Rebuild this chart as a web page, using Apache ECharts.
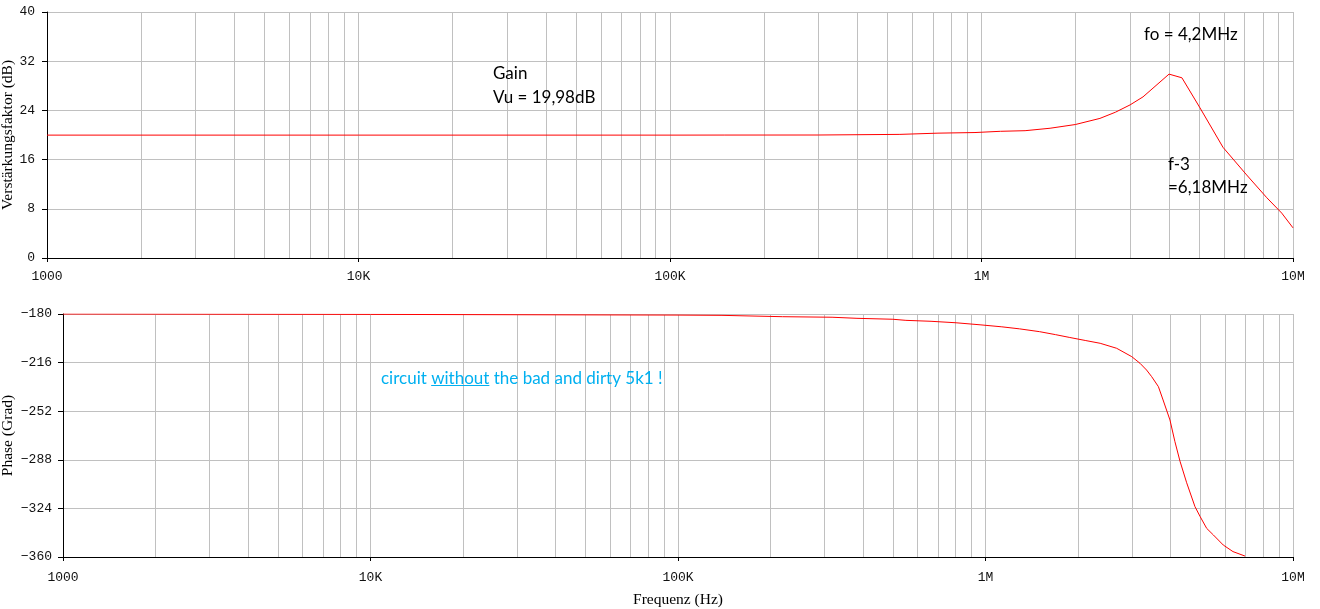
<!DOCTYPE html>
<html>
<head>
<meta charset="utf-8">
<script src="https://cdn.jsdelivr.net/npm/echarts@6/dist/echarts.min.js"></script>
<style>
html,body{margin:0;padding:0;background:#fff;}
#chart{width:1320px;height:609px;}
</style>
</head>
<body>
<div id="chart"></div>
<script>
// ---- data ----
const gainFreq = [1000, 10000, 100000, 150000, 300000, 547000, 725000, 953000, 1150000, 1380000, 1660000, 2000000, 2400000, 2690000, 3000000, 3300000, 4000000, 4400000, 5030000, 5960000, 7100000, 8240000, 9200000, 10000000];
const gainDb   = [19.98, 19.98, 19.98, 19.99, 20.0, 20.1, 20.3, 20.4, 20.6, 20.7, 21.1, 21.7, 22.7, 23.7, 24.9, 26.2, 29.9, 29.3, 24.4, 18.0, 13.5, 9.8, 7.3, 4.9];

const phaseFreq = [1000, 10000, 100000, 139000, 219000, 317000, 382000, 500000, 551000, 665000, 802000, 960000, 1130000, 1290000, 1500000, 1690000, 1880000, 2110000, 2360000, 2670000, 2990000, 3180000, 3340000, 3470000, 3650000, 3780000, 3980000, 4130000, 4290000, 4510000, 4800000, 4990000, 5240000, 5510000, 5930000, 6380000, 6980000];
const phaseDeg  = [-180, -180.3, -180.8, -181.0, -182.0, -182.4, -183.2, -183.9, -184.7, -185.4, -186.5, -188.0, -189.5, -191.0, -193.1, -195.3, -197.4, -199.6, -201.7, -205.4, -211.6, -216.5, -221.5, -226.4, -233.8, -243.7, -258.5, -274.5, -289.0, -305.0, -322.7, -330.1, -338.8, -343.7, -351.1, -356.0, -359.3];

const minorFreqs = [2e3,3e3,4e3,5e3,6e3,7e3,8e3,9e3, 2e4,3e4,4e4,5e4,6e4,7e4,8e4,9e4, 2e5,3e5,4e5,5e5,6e5,7e5,8e5,9e5, 2e6,3e6,4e6,5e6,6e6,7e6,8e6,9e6];
const gainTicks = [0, 8, 16, 24, 32, 40];
const phaseTicks = [-360, -324, -288, -252, -216, -180];

const texts = {
  gain1: 'Gain',
  gain2: 'Vu = 19,98dB',
  fo: 'fo = 4,2MHz',
  f3a: 'f-3',
  f3b: '=6,18MHz',
  note1: 'circuit ',
  note2: 'without',
  note3: ' the bad and dirty 5k1 !'
};

// ---- styles ----
const GRID = '#c0c0c0';
const monoLabel = {fontFamily: 'Liberation Mono', fontSize: 13, color: '#111'};
const serifName = {fontFamily: 'Liberation Serif', fontSize: 15.5, color: '#000'};

function fmtFreq(v){
  const r = Math.round(v);
  if (r >= 1e6) return Math.round(r/1e6) + 'M';
  if (r >= 1e4) return Math.round(r/1e3) + 'K';
  return String(r);
}
function fmtNum(v){ return String(Math.round(v)).replace('-', '\u2212'); }

function xAxisDef(gridIndex, margin, withName){
  return {
    type: 'log', logBase: 10, gridIndex, min: 1000, max: 1e7,
    axisLine: {show: true, lineStyle: {color: '#000', width: 1}},
    axisTick: {show: true, length: 4, lineStyle: {color: '#000'}},
    axisLabel: Object.assign({margin, formatter: fmtFreq, showMinLabel: true, showMaxLabel: true}, monoLabel),
    splitLine: {show: true, lineStyle: {color: GRID, width: 1}},
    minorTick: {show: false}, minorSplitLine: {show: false},
    name: withName ? 'Frequenz (Hz)' : '',
    nameLocation: 'middle', nameGap: 35, nameMoveOverlap: false, nameTextStyle: serifName
  };
}
function yAxisDef(gridIndex, ticks, name, nameGap, margin){
  const step = ticks[1] - ticks[0];
  return {
    type: 'value', gridIndex, min: ticks[0], max: ticks[ticks.length-1], interval: step,
    axisLine: {show: true, lineStyle: {color: '#000', width: 1}},
    axisTick: {show: true, length: 5, lineStyle: {color: '#000'}},
    axisLabel: Object.assign({margin, formatter: fmtNum}, monoLabel),
    splitLine: {show: true, lineStyle: {color: GRID, width: 1}},
    name, nameLocation: 'middle', nameGap, nameRotate: 90, nameMoveOverlap: false, nameTextStyle: serifName
  };
}
function minorGrid(xi, yi){
  return {
    type: 'line', xAxisIndex: xi, yAxisIndex: yi, data: [], z: 1, silent: true,
    markLine: {
      silent: true, symbol: ['none','none'], animation: false,
      label: {show: false},
      lineStyle: {color: GRID, width: 1, type: 'solid'},
      emphasis: {disabled: true},
      data: minorFreqs.map(f => ({xAxis: f}))
    }
  };
}

const chart = echarts.init(document.getElementById('chart'), null, {renderer: 'canvas'});
chart.setOption({
  animation: false,
  backgroundColor: '#fff',
  grid: [
    {left: 47, right: 27, top: 12, height: 246, containLabel: false, outerBoundsMode: 'none'},
    {left: 63, right: 27, top: 314, height: 243, containLabel: false, outerBoundsMode: 'none'}
  ],
  xAxis: [xAxisDef(0, 12, false), xAxisDef(1, 14, true)],
  yAxis: [
    yAxisDef(0, gainTicks, 'Verstärkungsfaktor (dB)', 31, 12),
    yAxisDef(1, phaseTicks, 'Phase (Grad)', 47, 11)
  ],
  series: [
    minorGrid(0, 0),
    minorGrid(1, 1),
    {
      type: 'line', xAxisIndex: 0, yAxisIndex: 0, z: 5, symbol: 'none', silent: true,
      lineStyle: {color: '#ff0000', width: 1},
      data: gainFreq.map((f, i) => [f, gainDb[i]])
    },
    {
      type: 'line', xAxisIndex: 1, yAxisIndex: 1, z: 5, symbol: 'none', silent: true,
      lineStyle: {color: '#ff0000', width: 1},
      data: phaseFreq.map((f, i) => [f, phaseDeg[i]])
    }
  ]
});

// annotations
const annFont = '17px Lato';
function txt(t, x, y, fill){
  return {type: 'text', x, y, z: 10, silent: true,
    style: {text: t, font: annFont, fill: fill || '#000', textAlign: 'left', verticalAlign: 'middle', textVerticalAlign: 'middle'}};
}
const ctx = document.createElement('canvas').getContext('2d');
ctx.font = annFont;
const w1 = ctx.measureText(texts.note1).width;
const w2 = ctx.measureText(texts.note2).width;
const noteX = 381, noteY = 379, BLUE = '#00b0f0';
chart.setOption({
  graphic: [
    txt(texts.gain1, 493, 74),
    txt(texts.gain2, 493, 98),
    txt(texts.fo, 1144, 35),
    txt(texts.f3a, 1168, 165),
    txt(texts.f3b, 1168, 188),
    txt(texts.note1, noteX, noteY, BLUE),
    txt(texts.note2, noteX + w1, noteY, BLUE),
    txt(texts.note3, noteX + w1 + w2, noteY, BLUE),
    {type: 'line', z: 10, silent: true,
     shape: {x1: noteX + w1, y1: noteY + 6.5, x2: noteX + w1 + w2, y2: noteY + 6.5},
     style: {stroke: BLUE, lineWidth: 1}}
  ]
});
</script>
</body>
</html>
